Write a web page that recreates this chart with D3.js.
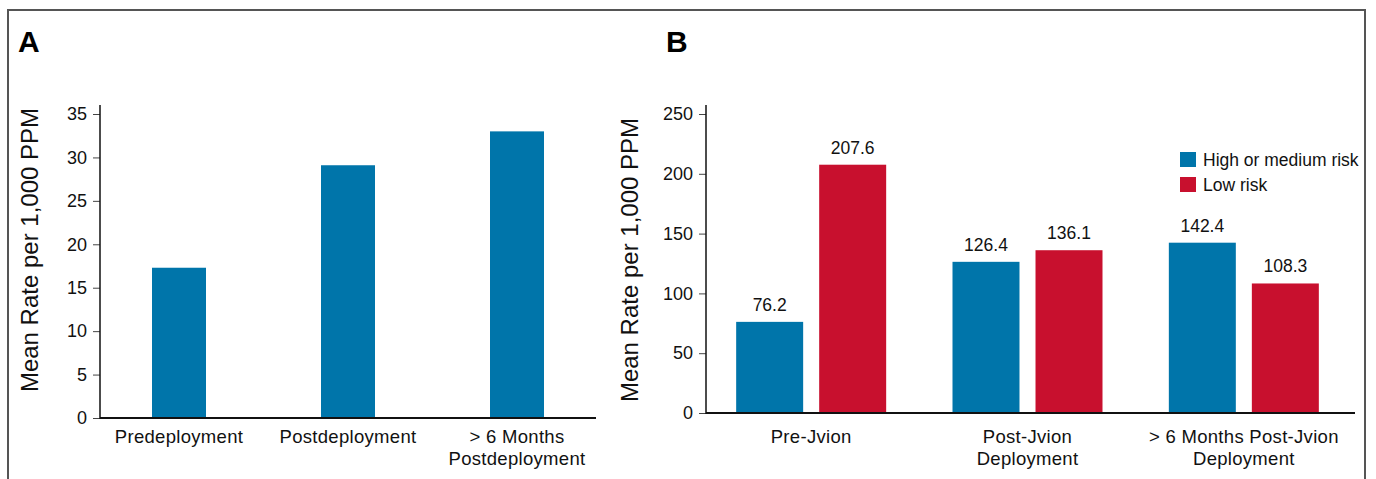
<!DOCTYPE html>
<html>
<head>
<meta charset="utf-8">
<script src="https://cdn.jsdelivr.net/npm/d3@7"></script>
<style>
  body { margin: 0; background: #fff; }
  text { font-family: "Liberation Sans", Arial, Helvetica, sans-serif; }
</style>
</head>
<body>
<svg id="chart" width="1376" height="479"></svg>
<script>
// Panel A data
var stagesA = ["Predeployment", "Postdeployment", "> 6 Months|Postdeployment"];
var valuesA = [17.3, 29.1, 33.0];
var ticksA = [0, 5, 10, 15, 20, 25, 30, 35];

// Panel B data
var stagesB = ["Pre-Jvion", "Post-Jvion|Deployment", "> 6 Months Post-Jvion|Deployment"];
var riskGroups = ["High or medium risk", "Low risk"];
var highMedium = [76.2, 126.4, 142.4];
var lowRisk = [207.6, 136.1, 108.3];
var ticksB = [0, 50, 100, 150, 200, 250];

var blue = "#0075aa", red = "#c8102e";

var svg = d3.select("#chart");

// frame
svg.append("path")
    .attr("d", "M8,490 L8,10 L1365,10 L1365,490")
    .attr("fill", "none")
    .attr("stroke", "#555")
    .attr("stroke-width", 2);

// panel letters
svg.append("text").attr("x", 18).attr("y", 52)
    .style("font-size", "30px").style("font-weight", "bold").text("A");
svg.append("text").attr("x", 666).attr("y", 52)
    .style("font-size", "30px").style("font-weight", "bold").text("B");

function drawYAxis(g, y, ticks, x0) {
    var ax = g.append("g")
        .attr("transform", "translate(" + x0 + ",0)")
        .call(d3.axisLeft(y).tickValues(ticks).tickSize(7).tickPadding(6));
    ax.select(".domain").remove();
    ax.selectAll(".tick line").attr("stroke", "#444");
    ax.selectAll(".tick text").style("font-family", "Liberation Sans, Arial, sans-serif")
        .style("font-size", "18px").attr("fill", "#111");
}

function drawXLabels(g, cats, center) {
    cats.forEach(function(c) {
        var lines = c.split("|");
        var t = g.append("text")
            .attr("text-anchor", "middle")
            .style("font-size", "18.5px")
            .style("letter-spacing", "0.3px")
            .attr("fill", "#111");
        lines.forEach(function(l, i) {
            t.append("tspan").attr("x", center(c)).attr("y", 443 + i * 22).text(l);
        });
    });
}

// ---------- Panel A ----------
var gA = svg.append("g");
var yA = d3.scaleLinear().domain([0, 35]).range([418, 114]);
var xA = d3.scaleBand().domain(stagesA).range([94.5, 601.5]);

gA.selectAll(".barA")
    .data(stagesA)
    .enter().append("rect")
    .attr("class", "barA")
    .attr("x", function(d) { return xA(d) + xA.bandwidth() / 2 - 27; })
    .attr("width", 54)
    .attr("y", function(d, i) { return yA(valuesA[i]); })
    .attr("height", function(d, i) { return yA(0) - yA(valuesA[i]); })
    .attr("fill", blue);

drawYAxis(gA, yA, ticksA, 100);
gA.append("line").attr("x1", 100).attr("x2", 100).attr("y1", 105).attr("y2", 419)
    .attr("stroke", "#111").attr("stroke-width", 1.5);
gA.append("line").attr("x1", 100).attr("x2", 596).attr("y1", 418).attr("y2", 418)
    .attr("stroke", "#111").attr("stroke-width", 2);
drawXLabels(gA, stagesA, function(c) { return xA(c) + xA.bandwidth() / 2; });

gA.append("text")
    .attr("transform", "translate(38,250) rotate(-90)")
    .attr("text-anchor", "middle")
    .style("font-size", "24px")
    .attr("fill", "#111")
    .text("Mean Rate per 1,000 PPM");

// ---------- Panel B ----------
var gB = svg.append("g");
var yB = d3.scaleLinear().domain([0, 250]).range([413, 114]);
var xB = d3.scaleBand().domain(stagesB).range([703, 1352]);
var x1 = d3.scaleBand().domain(riskGroups)
    .range([xB.bandwidth() / 2 - 75, xB.bandwidth() / 2 + 75])
    .paddingInner(0.193);
var color = d3.scaleOrdinal().domain(riskGroups).range([blue, red]);

var rows = [];
stagesB.forEach(function(s, i) {
    rows.push({ stage: s, group: riskGroups[0], value: highMedium[i] });
    rows.push({ stage: s, group: riskGroups[1], value: lowRisk[i] });
});

gB.selectAll(".barB")
    .data(rows)
    .enter().append("rect")
    .attr("class", "barB")
    .attr("x", function(d) { return xB(d.stage) + x1(d.group); })
    .attr("width", x1.bandwidth())
    .attr("y", function(d) { return yB(d.value); })
    .attr("height", function(d) { return yB(0) - yB(d.value); })
    .attr("fill", function(d) { return color(d.group); });

gB.selectAll(".valB")
    .data(rows)
    .enter().append("text")
    .attr("x", function(d) { return xB(d.stage) + x1(d.group) + x1.bandwidth() / 2; })
    .attr("y", function(d) { return yB(d.value) - 11; })
    .attr("text-anchor", "middle")
    .style("font-size", "17.5px")
    .attr("fill", "#111")
    .text(function(d) { return d.value.toFixed(1); });

drawYAxis(gB, yB, ticksB, 706);
gB.append("line").attr("x1", 706).attr("x2", 706).attr("y1", 105).attr("y2", 414)
    .attr("stroke", "#111").attr("stroke-width", 1.5);
gB.append("line").attr("x1", 706).attr("x2", 1355).attr("y1", 413).attr("y2", 413)
    .attr("stroke", "#111").attr("stroke-width", 2);
drawXLabels(gB, stagesB, function(c) { return xB(c) + xB.bandwidth() / 2; });

gB.append("text")
    .attr("transform", "translate(638,260) rotate(-90)")
    .attr("text-anchor", "middle")
    .style("font-size", "24px")
    .attr("fill", "#111")
    .text("Mean Rate per 1,000 PPM");

// legend
var legend = gB.selectAll(".legend")
    .data(riskGroups)
    .enter().append("g")
    .attr("class", "legend")
    .attr("transform", function(d, i) { return "translate(1180," + (152 + i * 25) + ")"; });
legend.append("rect").attr("width", 16).attr("height", 15)
    .attr("fill", function(d) { return color(d); });
legend.append("text")
    .attr("x", 23).attr("y", 14)
    .style("font-size", "17.5px")
    .attr("fill", "#111")
    .text(function(d) { return d; });
</script>
</body>
</html>
